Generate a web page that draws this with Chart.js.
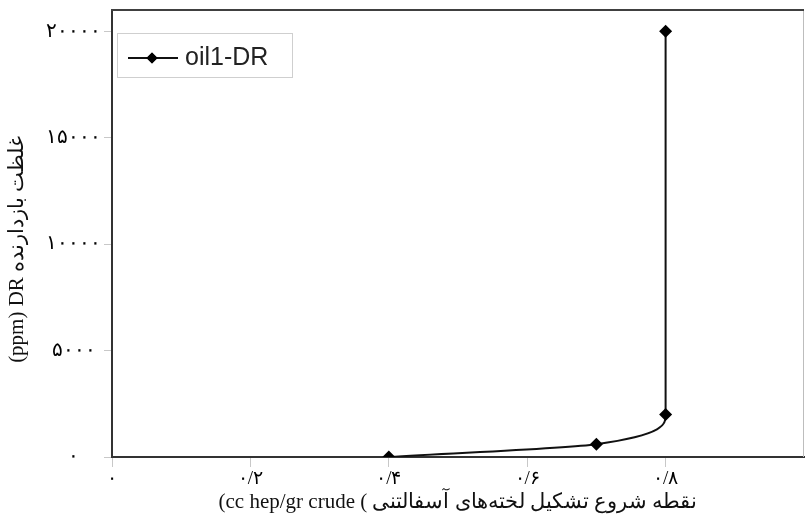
<!DOCTYPE html>
<html>
<head>
<meta charset="utf-8">
<script src="https://cdn.jsdelivr.net/npm/chart.js@4"></script>
<style>
  html, body { margin: 0; padding: 0; background: #fff; }
  #wrap { width: 805px; height: 526px; }
</style>
</head>
<body>
<div id="wrap"><canvas id="drChart"></canvas></div>
<script>
/* ---- data ---- */
const seriesName  = 'oil1-DR';
const onsetX      = [0.4, 0.7, 0.8, 0.8];
const drPpm       = [0, 600, 2000, 20000];

const xTickValues = [0, 0.2, 0.4, 0.6, 0.8];
const xTickLabels = ['۰', '۰/۲', '۰/۴', '۰/۶', '۰/۸'];
const yTickValues = [0, 5000, 10000, 15000, 20000];
const yTickLabels = ['۰', '۵۰۰۰', '۱۰۰۰۰', '۱۵۰۰۰', '۲۰۰۰۰'];

const xTitle = '(cc hep/gr crude ( نقطه شروع تشکیل لخته‌های آسفالتنی';
// trailing spaces push the rotated title a bit downward, as in the figure
const yTitle = '(ppm) DR غلظت بازدارنده      ';

const SERIF = '"Liberation Serif", "DejaVu Serif", serif';

function noPad(s) {
  s.paddingLeft = s.paddingRight = s.paddingTop = s.paddingBottom = 0;
}

/* frame on top / right of the plot, plus the in-plot legend box */
const framePlugin = {
  id: 'frame',
  beforeDatasetsDraw(chart) {
    const { ctx, chartArea: a } = chart;
    ctx.save();
    ctx.strokeStyle = '#bdbdbd';
    ctx.lineWidth = 1;
    ctx.beginPath();
    ctx.moveTo(a.right - 0.5, a.top);
    ctx.lineTo(a.right - 0.5, a.bottom);
    ctx.stroke();
    ctx.strokeStyle = '#404040';
    ctx.lineWidth = 2;
    ctx.beginPath();
    ctx.moveTo(a.left - 1, a.top);
    ctx.lineTo(a.right, a.top);
    ctx.stroke();
    ctx.restore();
  },
  afterDraw(chart) {
    const { ctx, chartArea: a } = chart;
    const ds = chart.data.datasets[0];
    const bx = a.left + 5, by = a.top + 23, bw = 175, bh = 44;
    ctx.save();
    ctx.fillStyle = '#fff';
    ctx.fillRect(bx, by, bw, bh);
    ctx.strokeStyle = '#cfcfcf';
    ctx.lineWidth = 1;
    ctx.strokeRect(bx + 0.5, by + 0.5, bw, bh);
    const cy = by + bh / 2 + 3;
    ctx.strokeStyle = ds.borderColor;
    ctx.lineWidth = 2;
    ctx.beginPath();
    ctx.moveTo(bx + 11, cy);
    ctx.lineTo(bx + 61, cy);
    ctx.stroke();
    ctx.fillStyle = '#000';
    Chart.helpers.drawPoint(ctx, { pointStyle: 'rectRot', radius: 5.5, borderWidth: 0, rotation: 0 }, bx + 35, cy);
    ctx.fill();
    ctx.fillStyle = '#222';
    ctx.font = '25px "Liberation Sans", Arial, sans-serif';
    ctx.textBaseline = 'middle';
    ctx.fillText(ds.label, bx + 68, cy);
    ctx.restore();
  }
};

new Chart(document.getElementById('drChart'), {
  type: 'line',
  data: {
    datasets: [{
      label: seriesName,
      data: onsetX.map((x, i) => ({ x, y: drPpm[i] })),
      borderColor: '#111',
      borderWidth: 2,
      cubicInterpolationMode: 'monotone',
      pointStyle: 'rectRot',
      pointRadius: 6.5,
      pointBackgroundColor: '#000',
      pointBorderColor: '#000',
      pointBorderWidth: 0,
      fill: false,
    }],
  },
  options: {
    indexAxis: 'y',
    responsive: true,
    maintainAspectRatio: false,
    animation: false,
    layout: { autoPadding: false, padding: { left: 0, right: 1, top: 10, bottom: 0 } },
    plugins: {
      legend: { display: false },
      tooltip: { enabled: false },
    },
    scales: {
      x: {
        type: 'linear',
        position: 'bottom',
        min: 0,
        max: 1,
        afterBuildTicks: s => { s.ticks = xTickValues.map(v => ({ value: v })); },
        afterFit: s => { s.height = 69; noPad(s); },
        grid: { drawOnChartArea: false, drawTicks: true, tickLength: 10, color: '#c8c8c8' },
        border: { display: true, color: '#333', width: 2 },
        ticks: {
          color: '#000',
          padding: 1,
          maxRotation: 0,
          font: { family: SERIF, size: 19 },
          callback: (v, i) => xTickLabels[i],
        },
        title: {
          display: true,
          text: xTitle,
          color: '#111',
          font: { family: SERIF, size: 21 },
          padding: { top: 0, bottom: 11 },
        },
      },
      y: {
        type: 'linear',
        position: 'left',
        min: 0,
        max: 21000,
        afterBuildTicks: s => { s.ticks = yTickValues.map(v => ({ value: v })); },
        afterFit: s => { s.width = 112; noPad(s); },
        grid: { drawOnChartArea: false, drawTicks: true, tickLength: 8, color: '#c8c8c8' },
        border: { display: true, color: '#333', width: 2 },
        ticks: {
          color: '#000',
          padding: 3,
          crossAlign: 'center',
          font: { family: SERIF, size: 20 },
          callback: (v, i) => yTickLabels[i],
        },
        title: {
          display: true,
          text: yTitle,
          color: '#111',
          font: { family: SERIF, size: 21 },
          padding: { top: 5, bottom: 0 },
        },
      },
    },
  },
  plugins: [framePlugin],
});
</script>
</body>
</html>
